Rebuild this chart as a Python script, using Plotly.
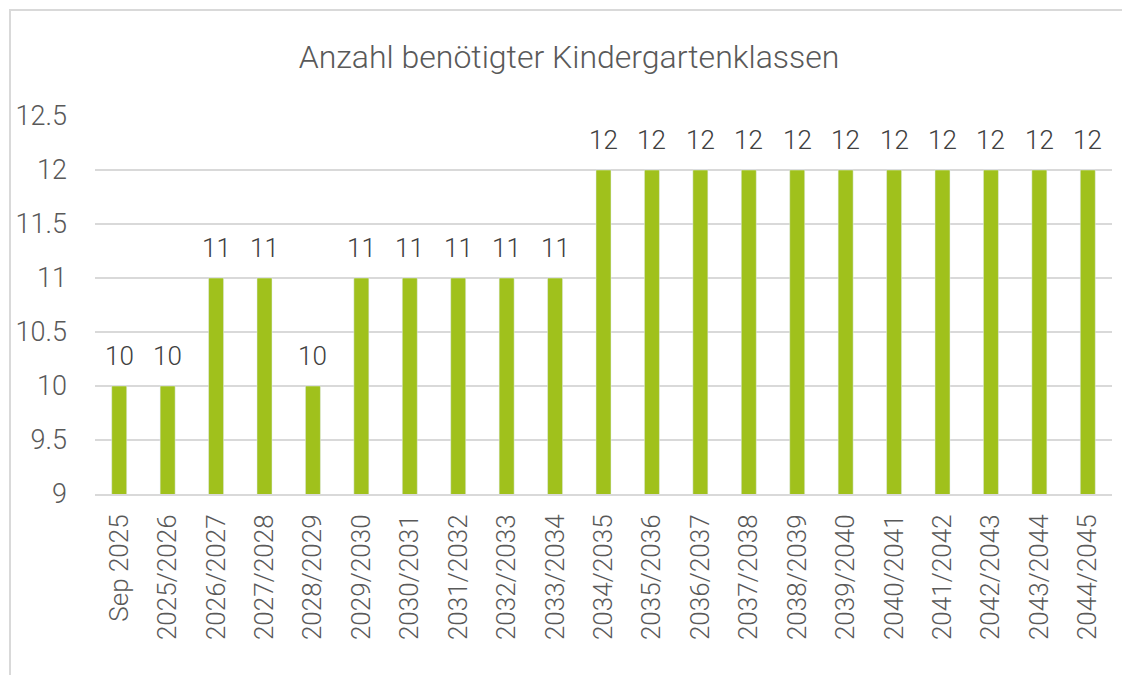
import plotly.graph_objects as go

categories = ["Sep 2025", "2025/2026", "2026/2027", "2027/2028", "2028/2029", "2029/2030",
              "2030/2031", "2031/2032", "2032/2033", "2033/2034", "2034/2035", "2035/2036",
              "2036/2037", "2037/2038", "2038/2039", "2039/2040", "2040/2041", "2041/2042",
              "2042/2043", "2043/2044", "2044/2045"]
values = [10, 10, 11, 11, 10, 11, 11, 11, 11, 11, 12, 12, 12, 12, 12, 12, 12, 12, 12, 12, 12]
y_ticks = [9, 9.5, 10, 10.5, 11, 11.5, 12, 12.5]
y_tick_text = ["9", "9.5", "10", "10.5", "11", "11.5", "12", "12.5"]

# the page body has an 8px margin, so the figure starts at (8, 8)
OFF = 8
W, H = 1130 - OFF, 675 - OFF
L, R, T, B = 95 - OFF, 18, 116 - OFF, 181
pw = W - L - R
ph = H - T - B

fig = go.Figure(go.Bar(
    x=categories, y=values, marker_color="#A0C11C", cliponaxis=False,
))

annotations = [dict(x=c, y=v, xref="x", yref="y", text=str(v), showarrow=False,
                    yanchor="bottom", xanchor="center", yshift=13,
                    font=dict(family="Roboto", size=26, color="#404040", weight=300))
               for c, v in zip(categories, values)]

fig.update_layout(
    width=W, height=H,
    margin=dict(l=L, r=R, t=T, b=B, pad=0, autoexpand=False),
    paper_bgcolor="white", plot_bgcolor="white",
    bargap=0.69, showlegend=False,
    font=dict(family="Roboto", color="#595959", weight=300),
    title=dict(text="Anzahl benötigter Kindergartenklassen", x=0.5, xanchor="center",
               y=1 - (57 - OFF) / H, yanchor="middle",
               font=dict(family="Roboto", size=32, color="#595959", weight=300)),
    xaxis=dict(tickangle=-90, tickfont=dict(family="Roboto", size=26, color="#595959", weight=300),
               showgrid=False, showline=True, linecolor="#d9d9d9", linewidth=2, ticks="",
               ticklabelstandoff=8, automargin=False),
    yaxis=dict(range=[9, 12.5], tickvals=y_ticks, ticktext=y_tick_text,
               tickfont=dict(family="Roboto", size=27, color="#595959", weight=300),
               showgrid=True, gridcolor="#d9d9d9", gridwidth=2, zeroline=False, ticks="",
               ticklabelstandoff=27, automargin=False),
    annotations=annotations,
    shapes=[dict(type="rect", xref="paper", yref="paper",
                 x0=(10 - OFF - L) / pw, x1=(W + 20 - L) / pw,
                 y0=-(H + 20 - T - ph) / ph, y1=1 + (T - (10 - OFF)) / ph,
                 line=dict(color="#d9d9d9", width=2), layer="below")],
)

fig.write_html("out.html")
